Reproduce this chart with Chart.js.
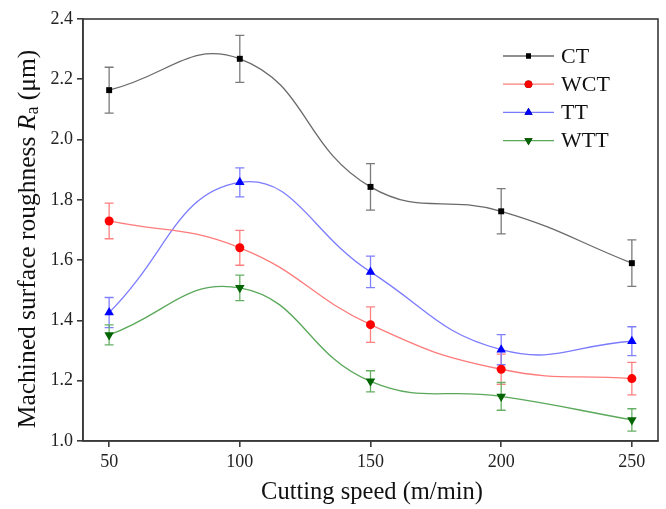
<!DOCTYPE html>
<html>
<head>
<meta charset="utf-8">
<script src="https://cdn.jsdelivr.net/npm/chart.js@4/dist/chart.umd.min.js"></script>
<style>
  html, body { margin: 0; padding: 0; background: #ffffff; }
  #wrap { width: 666px; height: 509px; position: relative; }
</style>
</head>
<body>
<div id="wrap"><canvas id="c" width="666" height="509"></canvas></div>
<script>
// ---- data ----
const speeds = [50, 100, 150, 200, 250];
const xTicks = [50, 100, 150, 200, 250];
const yTicks = [1.0, 1.2, 1.4, 1.6, 1.8, 2.0, 2.2, 2.4];

const ct     = [2.164, 2.268, 1.843, 1.762, 1.590];
const ctErr  = [0.076, 0.078, 0.077, 0.075, 0.077];
const wct    = [1.730, 1.641, 1.386, 1.238, 1.207];
const wctErr = [0.059, 0.058, 0.059, 0.050, 0.054];
const tt     = [1.426, 1.858, 1.561, 1.303, 1.331];
const ttErr  = [0.050, 0.048, 0.052, 0.050, 0.048];
const wtt    = [1.352, 1.508, 1.198, 1.148, 1.070];
const wttErr = [0.033, 0.042, 0.035, 0.046, 0.037];

const seriesNames = ['CT', 'WCT', 'TT', 'WTT'];

const FONT = '"Liberation Serif", "Times New Roman", serif';

function mk(label, vals, errs, line, marker, errColor, style, rot, radius) {
  return {
    label: label,
    data: speeds.map((s, i) => ({ x: s, y: vals[i] })),
    errors: errs,
    errColor: errColor,
    borderColor: line,
    borderWidth: 1.3,
    backgroundColor: marker,
    pointBackgroundColor: marker,
    pointBorderColor: marker,
    pointBorderWidth: 0,
    pointStyle: style,
    rotation: rot,
    pointRadius: radius,
    pointHoverRadius: radius,
    tension: 0.45,
    fill: false
  };
}

const datasets = [
  mk(seriesNames[0], ct,  ctErr,  '#6a6a6a', '#000000', '#7a7a7a', 'rect', 0, 4.2),
  mk(seriesNames[1], wct, wctErr, '#ff7b7b', '#ff0000', '#ff8080', 'circle', 0, 4.5),
  mk(seriesNames[2], tt,  ttErr,  '#7b7bff', '#0000ff', '#8080ff', 'triangle', 0, 5.5),
  mk(seriesNames[3], wtt, wttErr, '#5aa85a', '#006400', '#66b066', 'triangle', 180, 5.5)
];

const errorBars = {
  id: 'errorBars',
  beforeDatasetsDraw(chart) {
    const ctx = chart.ctx;
    const xs = chart.scales.x, ys = chart.scales.y;
    chart.data.datasets.forEach(ds => {
      ctx.save();
      ctx.strokeStyle = ds.errColor;
      ctx.lineWidth = 1.3;
      ds.data.forEach((p, i) => {
        const e = ds.errors[i];
        const px = xs.getPixelForValue(p.x);
        const top = ys.getPixelForValue(p.y + e);
        const bot = ys.getPixelForValue(p.y - e);
        ctx.beginPath();
        ctx.moveTo(px, top); ctx.lineTo(px, bot);
        ctx.moveTo(px - 4.5, top); ctx.lineTo(px + 4.5, top);
        ctx.moveTo(px - 4.5, bot); ctx.lineTo(px + 4.5, bot);
        ctx.stroke();
      });
      ctx.restore();
    });
  }
};

const decor = {
  id: 'decor',
  afterDraw(chart) {
    const ctx = chart.ctx;
    const a = chart.chartArea;
    ctx.save();
    // frame
    ctx.strokeStyle = '#3a3a3a';
    ctx.lineWidth = 1.6;
    ctx.strokeRect(a.left, a.top, a.right - a.left, a.bottom - a.top);

    // legend
    const lx0 = a.right - 155, lx1 = a.right - 104, ly0 = a.top + 37, dy = 28.2;
    chart.data.datasets.forEach((ds, i) => {
      const y = ly0 + i * dy;
      ctx.strokeStyle = ds.borderColor;
      ctx.lineWidth = 1.3;
      ctx.beginPath(); ctx.moveTo(lx0, y); ctx.lineTo(lx1, y); ctx.stroke();
      Chart.helpers.drawPoint(ctx, {
        pointStyle: ds.pointStyle, rotation: ds.rotation,
        radius: ds.pointRadius * 0.85, borderWidth: 0
      }, (lx0 + lx1) / 2, y);
      ctx.fillStyle = ds.pointBackgroundColor;
      ctx.fill();
      ctx.fillStyle = '#111';
      ctx.font = '22px ' + FONT;
      ctx.textBaseline = 'middle';
      ctx.textAlign = 'left';
      ctx.fillText(ds.label, lx1 + 7, y + 1);
    });

    // x title
    ctx.fillStyle = '#111';
    ctx.font = '24.5px ' + FONT;
    ctx.textAlign = 'center';
    ctx.textBaseline = 'middle';
    ctx.fillText('Cutting speed (m/min)', 372, 493);

    // y title (rotated, with italic R and subscript a)
    ctx.translate(28, 239);
    ctx.rotate(-Math.PI / 2);
    const parts = [
      { t: 'Machined surface roughness ', f: '25.5px ' + FONT, dy: 0 },
      { t: 'R', f: 'italic 25.5px ' + FONT, dy: 0 },
      { t: 'a', f: '18px ' + FONT, dy: 5 },
      { t: ' (\u03bcm)', f: '25.5px ' + FONT, dy: 0 }
    ];
    let total = 0;
    parts.forEach(p => { ctx.font = p.f; p.w = ctx.measureText(p.t).width; total += p.w; });
    let x = -total / 2;
    ctx.textAlign = 'left';
    ctx.textBaseline = 'middle';
    parts.forEach(p => { ctx.font = p.f; ctx.fillText(p.t, x, p.dy); x += p.w; });
    ctx.restore();
  }
};

new Chart(document.getElementById('c'), {
  type: 'line',
  data: { datasets: datasets },
  plugins: [errorBars, decor],
  options: {
    responsive: false,
    animation: false,
    devicePixelRatio: 1,
    layout: { padding: { left: 0, right: 8, top: 19, bottom: 0 } },
    plugins: { legend: { display: false }, tooltip: { enabled: false } },
    scales: {
      x: {
        type: 'linear', min: 40, max: 260,
        afterBuildTicks: s => { s.ticks = xTicks.map(v => ({ value: v })); },
        afterFit: s => { s.height = 68; },
        border: { display: true, color: '#3a3a3a', width: 1.6 },
        grid: { drawOnChartArea: false, drawTicks: true, tickLength: 6, color: '#3a3a3a', lineWidth: 1.6 },
        ticks: { color: '#222', font: { family: FONT, size: 18 }, padding: 4, maxRotation: 0 }
      },
      y: {
        type: 'linear', min: 1.0, max: 2.4,
        afterBuildTicks: s => { s.ticks = yTicks.map(v => ({ value: v })); },
        afterFit: s => { s.width = 83; },
        border: { display: true, color: '#3a3a3a', width: 1.6 },
        grid: { drawOnChartArea: false, drawTicks: true, tickLength: 6, color: '#3a3a3a', lineWidth: 1.6 },
        ticks: { color: '#222', font: { family: FONT, size: 18 }, padding: 4, callback: v => Number(v).toFixed(1) }
      }
    }
  }
});
</script>
</body>
</html>
